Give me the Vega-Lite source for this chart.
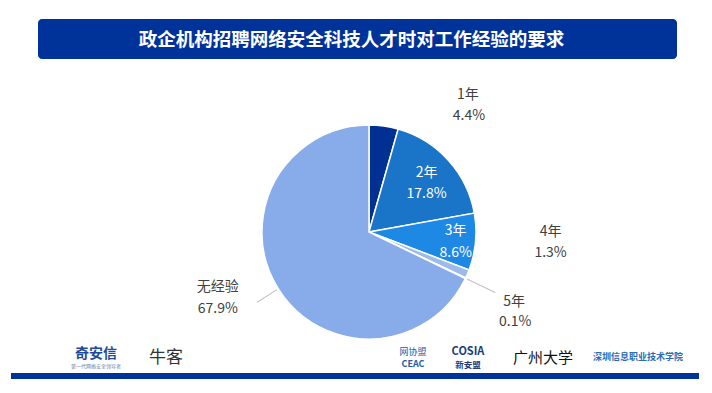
{
  "$schema": "https://vega.github.io/schema/vega-lite/v6.json",
  "background": "white",
  "padding": {"left": 11, "top": 19, "right": 0, "bottom": 0},
  "autosize": {"type": "pad"},
  "config": {"view": {"stroke": null}, "font": "Noto Sans CJK SC"},
  "datasets": {
    "pie": [
      {"cat": "1年", "v": 0.044, "o": 1},
      {"cat": "2年", "v": 0.178, "o": 2},
      {"cat": "3年", "v": 0.086, "o": 3},
      {"cat": "4年", "v": 0.013, "o": 4},
      {"cat": "5年", "v": 0.001, "o": 5},
      {"cat": "无经验", "v": 0.679, "o": 6}
    ],
    "one": [{}]
  },
  "bounds": "full",
  "spacing": 29,
  "vconcat": [
    {
      "bounds": "flush",
      "spacing": 26,
      "hconcat": [
        {"width": 1, "height": 1, "data": {"name": "one"}, "mark": {"type": "rect", "opacity": 0}, "encoding": {}},
        {
          "width": 639, "height": 40,
          "data": {"name": "one"},
          "layer": [
            {"mark": {"type": "rect", "fill": "#00339A", "cornerRadius": 4}, "encoding": {}},
            {"mark": {"type": "text", "fill": "white", "fontSize": 18.5, "fontWeight": "bold", "font": "Noto Sans CJK SC", "baseline": "middle", "dx": -6, "dy": 1},
             "encoding": {"text": {"value": "政企机构招聘网络安全科技人才时对工作经验的要求"}}}
          ]
        }
      ]
    },
    {
      "bounds": "full",
      "spacing": 3,
      "vconcat": [
        {
          "bounds": "flush",
          "spacing": 26,
          "hconcat": [
            {"width": 1, "height": 1, "data": {"name": "one"}, "mark": {"type": "rect", "opacity": 0}, "encoding": {}},
            {
              "width": 662, "height": 222,
              "data": {"name": "pie"},
              "layer": [
                {"mark": {"type": "arc", "outerRadius": 107, "stroke": "white", "strokeWidth": 1.5},
                 "encoding": {
                   "theta": {"field": "v", "type": "quantitative", "stack": true},
                   "order": {"field": "o", "type": "quantitative", "sort": "ascending"},
                   "color": {"field": "cat", "type": "nominal", "legend": null,
                     "scale": {"domain": ["1年", "2年", "3年", "4年", "5年", "无经验"],
                               "range": ["#003192", "#1A74C8", "#1E88E5", "#9DBAEC", "#8AAEE8", "#88ACEA"]}}}},
                {
                  "transform": [
                    {"stack": "v", "groupby": [], "sort": [{"field": "o", "order": "ascending"}], "as": ["s0", "s1"]},
                    {"fold": ["s0", "s1"], "as": ["edge", "ang"]},
                    {"aggregate": [{"op": "mean", "field": "ang", "as": "mid"}], "groupby": ["cat", "v"]}
                  ],
                  "encoding": {"theta": {"field": "mid", "type": "quantitative"}},
                  "layer": [
                    {"transform": [{"filter": {"field": "cat", "oneOf": ["5年"]}}],
                     "mark": {"type": "arc", "radius": 109, "radius2": 140, "filled": false, "stroke": "#C8C8C8", "strokeWidth": 1},
                     "encoding": {"theta2": {"field": "mid"}}},
                    {"transform": [{"filter": {"field": "cat", "oneOf": ["无经验"]}}],
                     "mark": {"type": "arc", "radius": 109, "radius2": 132, "filled": false, "stroke": "#C8C8C8", "strokeWidth": 1},
                     "encoding": {"theta2": {"field": "mid"}}},
                    {"transform": [{"filter": {"field": "cat", "equal": "2年"}}],
                     "mark": {"type": "text", "radius": 75, "dx": 2, "dy": -9, "fontSize": 14, "fill": "white", "baseline": "middle"},
                     "encoding": {"text": {"field": "cat", "type": "nominal"}}},
                    {"transform": [{"filter": {"field": "cat", "equal": "2年"}}],
                     "mark": {"type": "text", "radius": 75, "dx": 2, "dy": 12.5, "fontSize": 14, "fill": "white", "baseline": "middle"},
                     "encoding": {"text": {"field": "v", "type": "quantitative", "format": ".1%"}}},
                    {"transform": [{"filter": {"field": "cat", "equal": "3年"}}],
                     "mark": {"type": "text", "radius": 88, "dx": -1, "dy": -9, "fontSize": 14, "fill": "white", "baseline": "middle"},
                     "encoding": {"text": {"field": "cat", "type": "nominal"}}},
                    {"transform": [{"filter": {"field": "cat", "equal": "3年"}}],
                     "mark": {"type": "text", "radius": 88, "dx": -1, "dy": 12.5, "fontSize": 14, "fill": "white", "baseline": "middle"},
                     "encoding": {"text": {"field": "v", "type": "quantitative", "format": ".1%"}}},
                    {"transform": [{"filter": {"field": "cat", "equal": "1年"}}],
                     "mark": {"type": "text", "radius": 130, "dx": 81, "dy": -8, "fontSize": 14, "fill": "#404040", "baseline": "middle"},
                     "encoding": {"text": {"field": "cat", "type": "nominal"}}},
                    {"transform": [{"filter": {"field": "cat", "equal": "1年"}}],
                     "mark": {"type": "text", "radius": 130, "dx": 82, "dy": 12.5, "fontSize": 14, "fill": "#404040", "baseline": "middle"},
                     "encoding": {"text": {"field": "v", "type": "quantitative", "format": ".1%"}}},
                    {"transform": [{"filter": {"field": "cat", "equal": "4年"}}],
                     "mark": {"type": "text", "radius": 130, "dx": 62, "dy": -51, "fontSize": 14, "fill": "#404040", "baseline": "middle"},
                     "encoding": {"text": {"field": "cat", "type": "nominal"}}},
                    {"transform": [{"filter": {"field": "cat", "equal": "4年"}}],
                     "mark": {"type": "text", "radius": 130, "dx": 62, "dy": -30, "fontSize": 14, "fill": "#404040", "baseline": "middle"},
                     "encoding": {"text": {"field": "v", "type": "quantitative", "format": ".1%"}}},
                    {"transform": [{"filter": {"field": "cat", "equal": "5年"}}],
                     "mark": {"type": "text", "radius": 130, "dx": 28, "dy": 14, "fontSize": 14, "fill": "#404040", "baseline": "middle"},
                     "encoding": {"text": {"field": "cat", "type": "nominal"}}},
                    {"transform": [{"filter": {"field": "cat", "equal": "5年"}}],
                     "mark": {"type": "text", "radius": 130, "dx": 29, "dy": 34, "fontSize": 14, "fill": "#404040", "baseline": "middle"},
                     "encoding": {"text": {"field": "v", "type": "quantitative", "format": ".1%"}}},
                    {"transform": [{"filter": {"field": "cat", "equal": "无经验"}}],
                     "mark": {"type": "text", "radius": 130, "dx": -41, "dy": -14, "fontSize": 14, "fill": "#404040", "baseline": "middle"},
                     "encoding": {"text": {"field": "cat", "type": "nominal"}}},
                    {"transform": [{"filter": {"field": "cat", "equal": "无经验"}}],
                     "mark": {"type": "text", "radius": 130, "dx": -41, "dy": 7.5, "fontSize": 14, "fill": "#404040", "baseline": "middle"},
                     "encoding": {"text": {"field": "v", "type": "quantitative", "format": ".1%"}}}
                  ]
                }
              ]
            }
          ]
        },
        {
          "bounds": "flush",
          "spacing": 0,
          "hconcat": [
            {"width": 55, "height": 24, "data": {"name": "one"}, "mark": {"type": "rect", "opacity": 0}, "encoding": {}},
            {"width": 60, "height": 24, "data": {"name": "one"},
             "layer": [
               {"mark": {"type": "text", "fontSize": 14, "fontWeight": "bold", "fill": "#1D4A9A", "baseline": "middle", "dy": -4}, "encoding": {"text": {"value": "奇安信"}}},
               {"mark": {"type": "text", "fontSize": 5, "fill": "#6A7FA8", "baseline": "middle", "dy": 8}, "encoding": {"text": {"value": "第一代网络安全领导者"}}}
             ]},
            {"width": 80, "height": 24, "data": {"name": "one"}, "mark": {"type": "text", "fontSize": 17, "fill": "#333333", "baseline": "middle"}, "encoding": {"text": {"value": "牛客"}}},
            {"width": 177, "height": 24, "data": {"name": "one"}, "mark": {"type": "rect", "opacity": 0}, "encoding": {}},
            {"width": 60, "height": 24, "data": {"name": "one"},
             "layer": [
               {"mark": {"type": "text", "fontSize": 9, "fill": "#1F5CA8", "baseline": "middle", "dy": -6}, "encoding": {"text": {"value": "网协盟"}}},
               {"mark": {"type": "text", "fontSize": 9, "fontWeight": "bold", "fill": "#1F5CA8", "baseline": "middle", "dy": 6}, "encoding": {"text": {"value": "CEAC"}}}
             ]},
            {"width": 50, "height": 24, "data": {"name": "one"},
             "layer": [
               {"mark": {"type": "text", "fontSize": 11, "fontWeight": "bold", "fill": "#1A3C7C", "baseline": "middle", "dy": -6}, "encoding": {"text": {"value": "COSIA"}}},
               {"mark": {"type": "text", "fontSize": 8.5, "fontWeight": "bold", "fill": "#1A3C7C", "baseline": "middle", "dy": 7}, "encoding": {"text": {"value": "新安盟"}}}
             ]},
            {"width": 100, "height": 24, "data": {"name": "one"}, "mark": {"type": "text", "fontSize": 15, "fill": "#111111", "baseline": "middle"}, "encoding": {"text": {"value": "广州大学"}}},
            {"width": 90, "height": 24, "data": {"name": "one"}, "mark": {"type": "text", "fontSize": 9, "fontWeight": "bold", "fill": "#2A6CB5", "baseline": "middle", "dy": -1}, "encoding": {"text": {"value": "深圳信息职业技术学院"}}}
          ]
        },
        {"width": 688, "height": 6, "data": {"name": "one"}, "mark": {"type": "rect", "fill": "#00339A"}, "encoding": {}}
      ]
    }
  ]
}
